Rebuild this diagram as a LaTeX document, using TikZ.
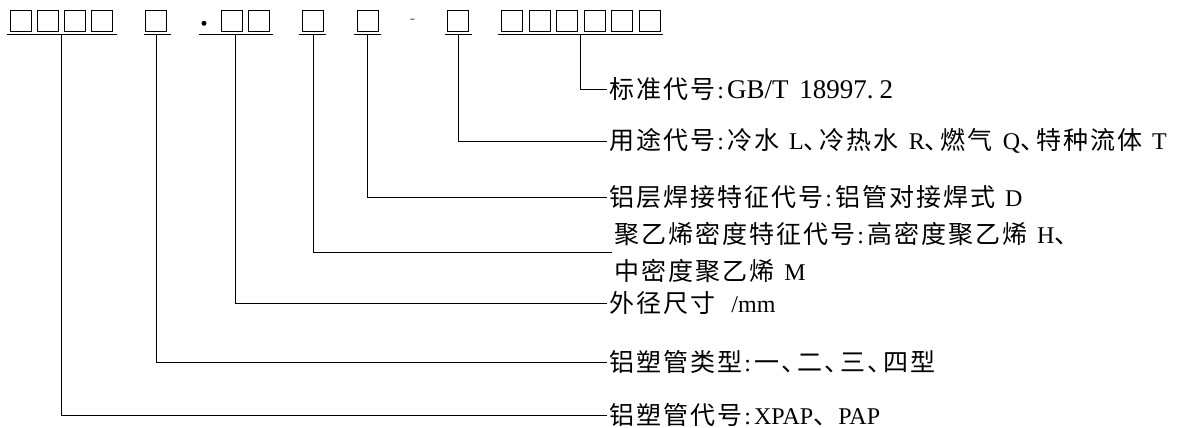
\documentclass[tikz,border=0pt]{standalone}
\usepackage{fontspec}
\setmainfont{Liberation Serif}
\newfontfamily\cjk[LetterSpace=8]{Noto Sans CJK SC}
\newcommand{\zh}[1]{{\cjk\fontsize{25}{37}\selectfont #1}}
\newcommand{\dun}{\zh{、}\hspace{-9pt}}
\newcommand{\cln}{\kern2pt:\kern3pt}
\newcommand{\wsp}{\hspace{4pt}\ }

\begin{document}
\begin{tikzpicture}[x=1pt, y=-1pt, line width=0.9pt,
    digit/.style={draw, minimum size=21pt, inner sep=0pt},
    lbl/.style={anchor=west, inner xsep=2pt, inner ysep=0pt, align=left,
      font=\fontsize{24}{37}\selectfont}]
        \useasboundingbox (0,0) rectangle (1178,428);
        % code boxes
        \node[digit] (A1) at (21.4,21.2) {};
        \node[digit] (A2) at (48.3,21.2) {};
        \node[digit] (A3) at (75.2,21.2) {};
        \node[digit] (A4) at (102.1,21.2) {};
        \node[digit] (B1) at (156.2,21.2) {};
        \node[circle, fill, inner sep=0pt, minimum size=5pt] (dot) at (204,23.3) {};
        \node[digit] (C1) at (231.5,21.2) {};
        \node[digit] (C2) at (258.8,21.2) {};
        \node[digit] (D1) at (312.5,21.2) {};
        \node[digit] (E1) at (367.5,21.2) {};
        \node[font=\fontsize{16}{16}\selectfont, text=black!60] (dash) at (412.5,21) {-};
        \node[digit] (F1) at (458.3,21.2) {};
        \node[digit] (G1) at (512.0,21.2) {};
        \node[digit] (G2) at (539.5,21.2) {};
        \node[digit] (G3) at (567.0,21.2) {};
        \node[digit] (G4) at (594.5,21.2) {};
        \node[digit] (G5) at (622.0,21.2) {};
        \node[digit] (G6) at (649.5,21.2) {};
        % underlines
        \coordinate (a1) at (6.7,34.3);   \coordinate (a2) at (116.7,34.3);
        \coordinate (b1) at (144,34.3);   \coordinate (b2) at (170.7,34.3);
        \coordinate (c1) at (199,34.3);   \coordinate (c2) at (273.3,34.3);
        \coordinate (d1) at (299.3,34.3); \coordinate (d2) at (326,34.3);
        \coordinate (e1) at (354,34.3);   \coordinate (e2) at (381,34.3);
        \coordinate (f1) at (445,34.3);   \coordinate (f2) at (471.7,34.3);
        \coordinate (g1) at (498.3,34.3); \coordinate (g2) at (662.7,34.3);
        \draw (a1) -- (a2);
        \draw (b1) -- (b2);
        \draw (c1) -- (c2);
        \draw (d1) -- (d2);
        \draw (e1) -- (e2);
        \draw (f1) -- (f2);
        \draw (g1) -- (g2);
        % explanations
        \node[lbl] (L7) at (607,89) {\zh{标准代号}\cln{\fontsize{27}{37}\selectfont GB/T\wsp 18997.\hspace{6pt}2}};
        \node[lbl] (L6) at (607,141) {\zh{用途代号}\cln\zh{冷水}\wsp L\dun\zh{冷热水}\wsp R\dun\zh{燃气}\wsp Q\dun\zh{特种流体}\wsp T};
        \node[lbl] (L5) at (607,197) {\zh{铝层焊接特征代号}\cln\zh{铝管对接焊式}\wsp D};
        \node[lbl] (L4) at (612,252) {\zh{聚乙烯密度特征代号}\cln\zh{高密度聚乙烯}\wsp H\zh{、}\\\zh{中密度聚乙烯}\wsp M};
        \node[lbl] (L3) at (607,303) {\zh{外径尺寸}\hspace{10pt} /mm};
        \node[lbl] (L2) at (607,362) {\zh{铝塑管类型}\cln\zh{一}\dun\zh{二}\dun\zh{三}\dun\zh{四型}};
        \node[lbl] (L1) at (607,415) {\zh{铝塑管代号}\cln XPAP\zh{、}PAP};
        % leaders
        \coordinate (s1) at (61,34.3);
        \coordinate (s2) at (156.7,34.3);
        \coordinate (s3) at (235,34.3);
        \coordinate (s4) at (313.3,34.3);
        \coordinate (s5) at (367.7,34.3);
        \coordinate (s6) at (458.3,34.3);
        \coordinate (s7) at (580.7,34.3);
        \draw (s1) |- (L1.west);
        \draw (s2) |- (L2.west);
        \draw (s3) |- (L3.west);
        \draw (s4) |- (L4.west);
        \draw (s5) |- (L5.west);
        \draw (s6) |- (L6.west);
        \draw (s7) |- (L7.west);
      \end{tikzpicture}
\end{document}
